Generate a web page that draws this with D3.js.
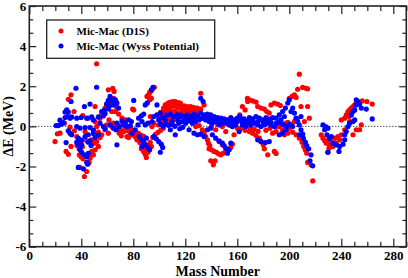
<!DOCTYPE html>
<html>
<head>
<meta charset="utf-8">
<script src="https://cdn.jsdelivr.net/npm/d3@7"></script>
<style>
body { margin: 0; background: #fff; }
text { font-family: "Liberation Serif", "Times New Roman", serif; font-weight: bold; }
</style>
</head>
<body>
<div id="canvas"></div>
<script>
// tick labels
var xTicks = [0, 40, 80, 120, 160, 200, 240, 280];
var yTicks = [-6, -4, -2, 0, 2, 4, 6];
var seriesNames = ["Mic-Mac (D1S)", "Mic-Mac (Wyss Potential)"];

// [mass number, delta E (MeV)]
var d1s = [
[51.8,3.12],[60.8,1.82],[64.2,1.9],[65.2,1.74],[32.1,1.57],[30,1.35],[50.6,0.99],[34.4,0.74],[59.5,1.07],[63.4,1.16],
[58.3,0.91],[54.4,0.41],[45.4,0.41],[41.1,0.54],[27,0.16],[23.6,-0.34],[21.6,-0.37],[19.8,-0.76],[31.3,-0.04],[28.3,-1.25],
[30,-1.39],[32.1,-1.0],[36.5,-0.51],[37.7,-0.79],[39.3,-0.85],[36.7,-0.95],[38.3,-1.12],[40.8,-1.02],[38.5,-1.42],[39.8,-1.52],
[41.3,-1.62],[39,-2.05],[44.1,-2.25],[42.4,-2.5],[48,-0.67],[50,-0.84],[51.8,-0.76],[53.1,-1.0],[50.6,-1.17],[48,-1.25],
[45.4,-1.39],[49.3,-1.42],[46.7,-1.59],[51.8,-0.01],[53.1,-0.29],[55.7,-0.42],[54.4,-0.56],[58.3,-0.17],[60.8,-0.34],[59.5,0.07],
[63.4,-0.01],[64.7,0.16],[55.7,0.61],[61.3,0.32],[42.9,-0.26],[44.2,-0.72],[34.7,-0.22],[50.6,0.24],[63.4,0.74],[44.6,-1.83],[46,-1.8],
[64.9,1.4],[66.7,1.24],[65.7,1.07],[67.4,0.94],[66.2,0.74],[68.7,0.61],[71.3,0.41],[73.9,0.33],[69.2,-0.34],[70.8,-0.47],
[75.9,-0.22],[77.7,-0.39],[76.4,-0.56],[79.5,-0.42],[81.5,-0.52],[84.1,-0.62],[82.8,-0.67],[79.5,0.86],[86.2,-1.12],[87.9,-1.25],
[89.2,-1.39],[91.3,-1.29],[90,-1.55],[90.5,1.49],[91.8,1.57],[92.6,1.69],[93.9,1.77],[95.1,1.9],[96.2,1.95],[92.6,1.32],
[93.9,1.4],[80.3,0.82],[103.3,0.91],[104.6,1.07],[106.7,1.16],[108.5,1.21],[110.5,1.24],[112.3,1.24],[114.4,1.19],[116.2,1.16],
[105.9,0.82],[107.7,0.94],[109.8,0.99],[111.8,1.04],[113.6,0.99],[115.6,0.91],[109.2,0.74],[112.3,0.77],[114.9,0.66],[95.7,0.16],
[99.5,0.07],[102.1,0.24],[94.4,-0.01],[104.6,0.16],[107.2,0.24],[111,0.32],[114.9,0.24],[93.1,0.49],[90.5,-0.92],[93.9,-1.0],
[72.6,-0.26],[75.1,-0.51],
[101,0.7],[102,0.55],[104,0.6],[106,0.5],[108,0.45],[110,0.55],[112,0.5],[114,0.45],[116,0.6],[118,0.65],
[120,0.6],[122,0.55],[124,0.6],[126,0.65],[128,0.7],[130,0.65],[118,0.9],[120,0.85],[122,0.88],[124,0.85],
[127,0.82],[129,0.78],[100,0.45],[103,0.75],[105,0.95],[107,1.05],[109,1.1],[111,1.12],[113,1.1],[115,1.05],[117,0.95],
[66,-0.1],[68,0.05],[70,-0.15],[72,0.1],[74,-0.05],[78,-0.1],[80,-0.2],[82,-0.3],[84,-0.35],[86,-0.45],
[88,-0.5],[85,-0.8],[87,-0.95],[89,-1.05],[91,-1.1],[93,-0.8],[95,-0.55],[97,-0.4],[99,-0.3],[101,-0.2],[103,-0.1],
[116.5,1.07],[119,1.02],[121.6,0.99],[124.2,0.99],[126.7,0.94],[129.3,0.91],[131.9,0.86],[117.8,0.82],[121.6,0.77],[125.5,0.74],
[131.9,1.65],[134.4,1.07],[133.1,-0.17],[134.4,-0.34],[135.7,-0.51],[137,-0.67],[137.8,-0.84],[138.8,-0.96],[138.3,-1.12],[140.3,-1.17],
[142.1,-1.25],[143.9,-1.29],[145.5,-1.37],[147.3,-1.42],[149,-1.34],[151.1,-1.25],[153.1,-1.17],[154.9,-1.05],[156.2,-0.89],[139.6,-1.72],
[142.9,-1.72],[141.6,-1.92],[163.9,0.99],[167.8,1.4],[166,0.82],[161.9,0.57],[160.1,0.41],[128,-0.01],[143.4,-0.17],[148.5,-0.01],
[130.6,0.04],[151.1,-0.26],[157.5,-0.42],[146,-0.76],[148.5,-0.92],
[140,0.0],[145,0.1],[150,0.15],[155,0.05],[158,0.2],
[169.3,1.32],[171.8,1.27],[174.4,1.21],[168,1.24],[175.7,0.99],[178.2,0.91],[180.8,0.86],[182.6,0.74],[184.6,0.66],[185.9,1.07],
[188.5,1.16],[191.1,1.11],[193.1,1.04],[200,1.4],[202.1,1.49],[203.9,1.57],[205.2,1.44],[207.7,2.6],[206.4,1.85],[210.3,1.94],
[212.9,1.9],[214.1,1.87],[209,0.99],[214.1,0.99],[169.3,-0.26],[171.8,-0.34],[174.4,-0.46],[177,-0.59],[178.2,-0.76],[180,-0.92],
[180.8,-1.12],[183.4,-1.42],[188.5,-1.25],[189.8,-1.35],[192.3,-0.01],[194.9,-0.17],[197.5,0.16],[200,-0.09],[202.6,-0.29],[205.2,-0.42],
[207.7,-0.59],[209.8,-0.79],[211.1,-1.0],[212.3,-1.17],[213.4,-1.34],[214.1,-1.8],[216.7,-1.92],[218,-2.72],[196.2,-0.42],[198.8,-0.34],
[189.8,-0.26],[187.2,-0.34],[211.6,0.24],[215.4,0.41],
[160,-0.1],[162,-0.15],[164,-0.05],[166,-0.2],[170,-0.1],[173,-0.15],[176,-0.25],[182,-0.2],[185,-0.1],[190,0.0],
[193,0.1],[196,0.05],[199,0.2],[202,0.1],[204,0.25],[206,0.35],
[224.6,-0.42],[225.9,-0.59],[227.2,-0.72],[228.5,-0.84],[229.7,-0.67],[231,-0.92],[232.3,-0.79],[230.5,-1.09],[233.6,-1.0],[229.7,-1.29],
[236.1,-0.84],[234.9,-0.59],[237.4,-0.51],[240,-0.42],[238.7,-0.67],[240,0.32],[242.6,0.41],[242.6,-0.17],[243.8,0.57],[245.1,0.74],
[246.4,0.82],[247.7,0.91],[249,0.99],[250.3,1.07],[251.5,1.16],[252.8,1.24],[256.1,1.27],[259.7,1.24],[263.8,1.11],[249,-0.42],
[251.5,-0.17],[254.1,-0.17],[255.4,0.07],[246.4,0.24],[245.9,0.49]
];

var wyss = [
[35.9,1.9],[51.8,1.95],[62.1,1.49],[63.4,1.37],[60.8,1.29],[64.7,1.2],[59.5,1.12],[62.1,1.04],[60.8,0.87],[57.7,0.81],
[58.3,0.64],[55.7,0.74],[57,0.52],[32.1,1.24],[28.8,0.82],[30,0.71],[27.5,0.71],[29.5,0.49],[31.3,0.41],[42.4,0.99],
[46.7,1.11],[20.6,0.04],[22.4,0.04],[24.4,0.11],[26.2,0.19],[23.6,0.31],[27.5,0.44],[32.6,0.47],[36.5,0.41],[39.8,0.44],
[44.2,0.41],[48,0.47],[53.1,0.47],[49.3,0.32],[31.3,-0.34],[32.6,-0.42],[30,-0.22],[36.5,-0.01],[39,-0.09],[42.9,-0.06],
[46.7,-0.06],[49.3,-0.19],[54.4,0.16],[57,-0.01],[58.3,-0.12],[62.1,0.07],[64.7,-0.09],[37.7,-0.59],[40.3,-0.69],[42.9,-0.51],
[45.4,-0.42],[49.3,-0.36],[50.6,-0.56],[46.7,-0.72],[36.5,-0.79],[37.7,-0.92],[40.3,-0.92],[39,-1.15],[45.4,-0.79],[47.5,-0.96],
[28.3,-0.81],[40.3,-1.29],[42.4,-1.42],[44.2,-1.52],[45.4,-1.35],[44.2,-1.79],[44.9,-1.89],[37.7,-2.05],[41.6,-2.12],[53.1,-0.42],
[66.2,1.32],[67.4,1.16],[64.9,1.07],[68.7,0.91],[80.3,1.29],[89.2,1.07],[90.8,1.17],[93.9,1.82],[95.1,1.94],[98.2,1.07],
[71.3,0.27],[73.9,0.16],[76.4,0.33],[78.5,0.24],[72.6,0.07],[75.1,-0.01],[77.7,0.03],[67.4,0.16],[69.2,-0.01],[66.7,-0.17],
[84.1,0.41],[86.2,0.52],[88,0.61],[89.2,0.07],[91.3,0.16],[83.6,0.07],[86.7,0.24],[95.7,0.49],[98.2,0.57],[100.8,0.66],
[102.6,0.44],[105.9,0.57],[108.5,0.61],[111,0.49],[113.6,0.57],[116.2,0.49],[104.6,0.32],[109.8,0.24],[114.4,0.32],[99.5,0.32],
[94.4,0.24],[84.6,-0.51],[86.2,-0.67],[88,-0.79],[89.2,-0.92],[91.3,-1.05],[92.6,-1.17],[86.7,-1.0],[90,-0.59],[95.7,-0.51],
[97.7,-0.62],[99.5,-0.76],[101.5,-0.89],[102.6,-1.05],[100.8,-1.29],[67.4,-0.92],[112.3,-0.42],[108.5,-0.17],[115.7,-0.12],[79,-0.34],
[81.5,-0.17],
[101,0.1],[103,0.0],[105,0.1],[107,0.05],[110,0.1],[112,0.0],[115,0.15],[118,-0.05],[120,0.35],[123,0.4],
[125,0.3],[127,0.45],[130,0.45],[133,0.4],[136,0.45],[139,0.4],[142,0.35],[145,0.25],[148,0.3],[150,0.25],
[152,0.15],[155,0.2],[158,0.15],[160,0.4],[162,0.5],[164,0.2],[166,0.1],[170,0.25],[172,0.3],[176,0.25],
[180,0.2],[183,0.3],[186,0.2],[190,0.15],[192,0.2],[195,0.1],[198,0.0],[200,0.1],
[131.9,1.4],[133.7,1.24],[116.5,0.57],[119,0.49],[121.6,0.57],[124.2,0.49],[126.7,0.61],[129.3,0.54],[131.9,0.66],[134.4,0.57],
[137,0.61],[139.6,0.57],[142.1,0.49],[144.7,0.44],[147.3,0.41],[149.8,0.37],[152.4,0.32],[155,0.44],[157.5,0.32],[160.1,0.24],
[162.6,0.32],[165.2,0.37],[167.8,0.27],[117.8,0.24],[120.3,0.16],[122.9,0.27],[125.5,0.16],[128,0.24],[130.6,0.32],[135.7,0.32],
[138.3,0.24],[140.8,0.16],[143.4,0.24],[146,0.07],[148.5,0.16],[153.7,0.07],[156.2,-0.01],[158.8,0.07],[163.9,0.07],[166.5,-0.01],
[126.7,-0.34],[129.3,-0.42],[131.9,-0.39],[134.4,-0.51],[140.8,-0.42],[143.4,-0.59],[146,-0.72],[148.5,-0.84],[149.8,-0.96],[151.1,-1.09],
[153.7,-1.17],[152.4,-1.34],[155,-0.84],[122.9,-0.17],[137,-0.17],[139.6,-0.09],[161.4,-0.26],
[169.3,0.44],[171.8,0.37],[174.4,0.49],[177,0.41],[179.5,0.32],[182.1,0.44],[184.6,0.36],[187.2,0.44],[168,0.16],[170.5,0.07],
[173.1,0.16],[175.7,0.07],[178.2,-0.01],[180.8,0.07],[183.4,0.16],[185.9,0.07],[188.5,-0.01],[175.7,-0.67],[178.2,-0.76],[181.6,-0.81],
[184.6,-0.76],[189.8,0.41],[192.3,0.57],[194.9,0.74],[197,0.91],[198.8,1.16],[200,1.32],[193.6,0.32],[196.2,0.49],[201.3,0.74],
[202.6,0.91],[203.9,0.66],[205.2,0.41],[206.4,0.24],[207.7,0.07],[209,0.49],[209,-0.17],[210.3,-0.39],[207.7,-0.42],[210.8,-0.59],
[212.3,-0.79],[213.4,-0.96],[214.9,-1.12],[216.7,-1.42],[215.9,-1.72],[218,-1.97],[192.3,-0.42],[194.9,-0.34],[197.5,-0.17],[202.6,-0.01],
[225.9,0.07],[227.9,-0.01],[229.7,-0.09],[227.2,-0.17],[229,-0.42],[231,-0.59],[232.3,-0.51],[229.7,-1.29],[233.6,-0.84],[236.1,-0.92],
[238.7,-1.0],[238.2,-1.25],[241.3,-0.89],[242.6,-0.67],[242.6,-0.42],[243.8,-0.26],[245.1,-0.01],[246.4,0.16],[249,0.24],[250.3,0.32],
[247.7,0.57],[249,0.74],[250.3,0.82],[251.5,1.07],[252.8,1.24],[251.5,1.32],[254.1,1.11],[255.4,0.91],[259.2,0.86],[263.8,0.37]
];

var width = 408, height = 278;

var svg = d3.select("#canvas")
  .append("svg")
  .attr("width", width)
  .attr("height", height);

var x = d3.scaleLinear().domain([0, 290]).range([29.3, 406.3]);
var y = d3.scaleLinear().domain([-6, 6]).range([246.7, 6]);

var x0 = x.range()[0], x1 = x.range()[1];
var y0 = y.range()[0], y1 = y.range()[1];

// zero line
svg.append("line")
  .attr("x1", x0).attr("x2", x1)
  .attr("y1", y(0)).attr("y2", y(0))
  .style("stroke", "#000")
  .style("stroke-width", 1)
  .style("stroke-dasharray", "1,2");

// points
svg.append("g")
  .selectAll("circle")
  .data(d1s)
  .enter()
  .append("circle")
  .attr("cx", function(d) { return x(d[0]); })
  .attr("cy", function(d) { return y(d[1]); })
  .attr("r", 2.6)
  .style("fill", "#ff0000");

svg.append("g")
  .selectAll("circle")
  .data(wyss)
  .enter()
  .append("circle")
  .attr("cx", function(d) { return x(d[0]); })
  .attr("cy", function(d) { return y(d[1]); })
  .attr("r", 2.6)
  .style("fill", "#0000ff");

// axes, ticks inward
var xMinor = d3.range(0, 291, 10).filter(function(v) { return v % 40 != 0; });
var yMinor = d3.range(-18, 19, 2).map(function(v) { return v / 3; }).filter(function(v) { return Math.abs(v % 2) > 0.01; });

function tidy(g) {
  g.select(".domain").remove();
  g.selectAll(".tick line").style("stroke", "#222").style("stroke-width", 1.2);
  g.selectAll(".tick text").style("fill", "#000").style("font-size", "13px")
    .style("font-family", "'Liberation Serif', serif").style("font-weight", "bold");
}

svg.append("g").attr("transform", "translate(0," + y0 + ")")
  .call(d3.axisBottom(x).tickValues(xTicks).tickSize(-8).tickPadding(4).tickFormat(function(d) { return d; }))
  .call(tidy);
svg.append("g").attr("transform", "translate(0," + y0 + ")")
  .call(d3.axisBottom(x).tickValues(xMinor).tickSize(-5).tickFormat(""))
  .call(tidy);
svg.append("g").attr("transform", "translate(0," + y1 + ")")
  .call(d3.axisTop(x).tickValues(xTicks).tickSize(-8).tickFormat(""))
  .call(tidy);
svg.append("g").attr("transform", "translate(0," + y1 + ")")
  .call(d3.axisTop(x).tickValues(xMinor).tickSize(-5).tickFormat(""))
  .call(tidy);

svg.append("g").attr("transform", "translate(" + x0 + ",0)")
  .call(d3.axisLeft(y).tickValues(yTicks).tickSize(-7).tickPadding(3).tickFormat(function(d) { return d; }))
  .call(tidy);
svg.append("g").attr("transform", "translate(" + x0 + ",0)")
  .call(d3.axisLeft(y).tickValues(yMinor).tickSize(-4).tickFormat(""))
  .call(tidy);
svg.append("g").attr("transform", "translate(" + x1 + ",0)")
  .call(d3.axisRight(y).tickValues(yTicks).tickSize(-7).tickFormat(""))
  .call(tidy);
svg.append("g").attr("transform", "translate(" + x1 + ",0)")
  .call(d3.axisRight(y).tickValues(yMinor).tickSize(-4).tickFormat(""))
  .call(tidy);

// frame
svg.append("rect")
  .attr("x", x0).attr("y", y1)
  .attr("width", x1 - x0).attr("height", y0 - y1)
  .style("fill", "none")
  .style("stroke", "#222")
  .style("stroke-width", 1.6);

// axis titles
svg.append("text")
  .attr("x", (x0 + x1) / 2)
  .attr("y", 275.5)
  .attr("text-anchor", "middle")
  .style("font-size", "14px")
  .text("Mass Number");

svg.append("text")
  .attr("transform", "translate(13," + ((y0 + y1) / 2) + ") rotate(-90)")
  .attr("text-anchor", "middle")
  .style("font-size", "14px")
  .text("\u0394E (MeV)");

// legend
var legend = svg.append("g");
legend.append("rect")
  .attr("x", 46.7).attr("y", 20)
  .attr("width", 168).attr("height", 38.3)
  .style("fill", "#fff")
  .style("stroke", "#222")
  .style("stroke-width", 1.3);

var legendColors = ["#ff0000", "#0000ff"];
seriesNames.forEach(function(name, i) {
  legend.append("circle")
    .attr("cx", 61).attr("cy", 31 + i * 15)
    .attr("r", 2.5)
    .style("fill", legendColors[i]);
  legend.append("text")
    .attr("x", 76.5).attr("y", 34.5 + i * 15)
    .style("font-size", "11px")
    .text(name);
});
</script>
</body>
</html>
